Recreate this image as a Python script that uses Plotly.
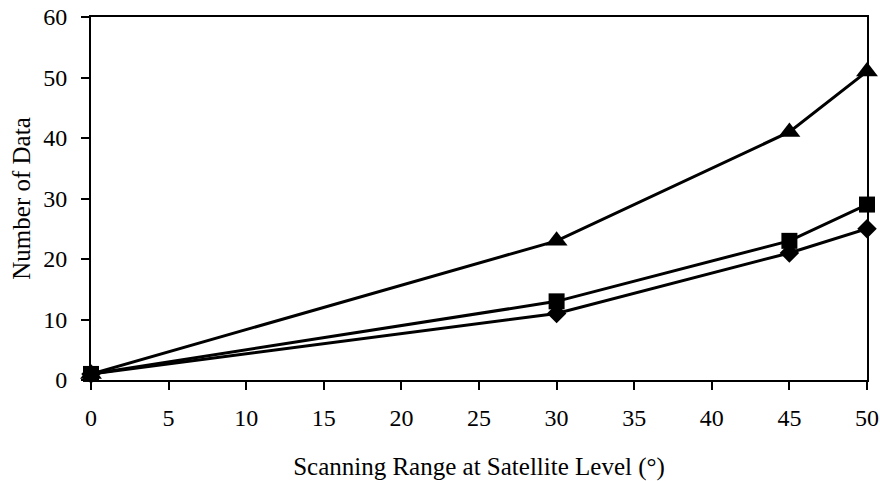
import plotly.graph_objects as go

x_vals = [0, 30, 45, 50]
triangle_vals = [1, 23, 41, 51]
square_vals = [1, 13, 23, 29]
diamond_vals = [1, 11, 21, 25]

x_ticks = [0, 5, 10, 15, 20, 25, 30, 35, 40, 45, 50]
y_ticks = [0, 10, 20, 30, 40, 50, 60]

font_family = "Liberation Serif"

fig = go.Figure()
fig.add_trace(go.Scatter(x=x_vals, y=diamond_vals, mode="lines+markers",
                         line=dict(color="black", width=3),
                         marker=dict(symbol="diamond", size=15, color="black"),
                         cliponaxis=False, showlegend=False))
fig.add_trace(go.Scatter(x=x_vals, y=square_vals, mode="lines+markers",
                         line=dict(color="black", width=3),
                         marker=dict(symbol="square", size=16, color="black"),
                         cliponaxis=False, showlegend=False))
fig.add_trace(go.Scatter(x=x_vals, y=triangle_vals, mode="lines+markers",
                         line=dict(color="black", width=3),
                         marker=dict(symbol="triangle-up", size=19, color="black"),
                         cliponaxis=False, showlegend=False))

fig.update_layout(
    width=880, height=481,
    margin=dict(l=91, r=13, t=17, b=101),
    paper_bgcolor="white", plot_bgcolor="white",
    font=dict(family=font_family, size=22, color="black"),
    xaxis=dict(range=[0, 50], tickvals=x_ticks, ticks="outside", ticklen=8,
               tickwidth=1.5, tickcolor="black", showgrid=False, zeroline=False,
               showline=True, linecolor="black", linewidth=2, mirror=True,
               automargin=False, ticklabelstandoff=7,
               tickfont=dict(family=font_family, size=24, color="black"),
               title=dict(text="Scanning Range at Satellite Level (°)",
                          font=dict(family=font_family, size=25, color="black"),
                          standoff=30)),
    yaxis=dict(range=[0, 60], tickvals=y_ticks, ticks="outside", ticklen=8,
               tickwidth=1.5, tickcolor="black", showgrid=False, zeroline=False,
               showline=True, linecolor="black", linewidth=2, mirror=True,
               automargin=False, ticklabelstandoff=9,
               tickfont=dict(family=font_family, size=24, color="black"),
               title=dict(text="Number of Data",
                          font=dict(family=font_family, size=25, color="black"),
                          standoff=5)),
)

fig.write_html("out.html")
